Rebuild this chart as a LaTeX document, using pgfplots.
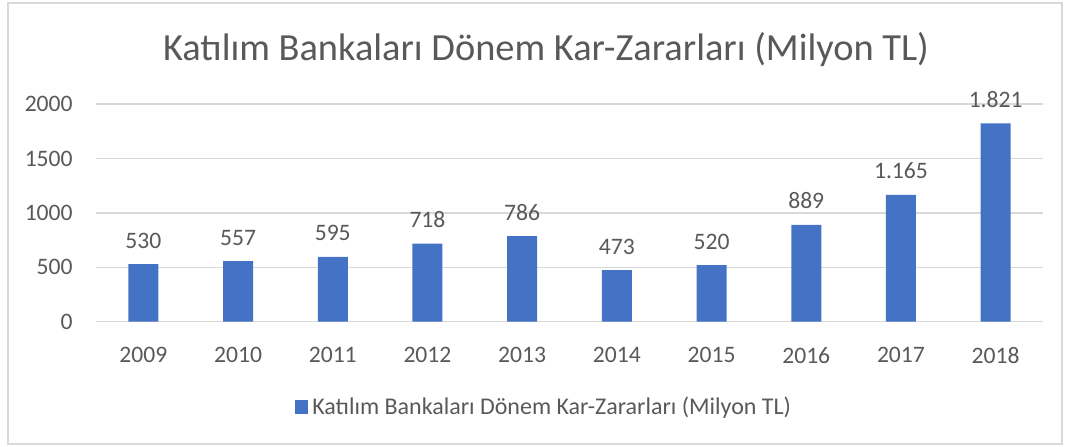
\documentclass[border=0pt]{standalone}
\usepackage{pgfplots}
\pgfplotsset{compat=1.18}
\usepackage{fontspec}
\setmainfont{Carlito}
\definecolor{barblue}{HTML}{4472C4}
\definecolor{txtgray}{HTML}{595959}
\definecolor{gridgray}{HTML}{D9D9D9}
\begin{document}
\begin{tikzpicture}
\useasboundingbox (0,0) rectangle (535pt,223pt);
\draw[gridgray, line width=0.75pt] (4pt,1pt) rectangle (531pt,221.5pt);
\node[anchor=base, text=txtgray, font=\fontsize{19.2}{22}\selectfont, inner sep=0pt] at (273pt,193pt) {Katılım Bankaları Dönem Kar-Zararları (Milyon TL)};
\begin{axis}[
  at={(48pt,62.15pt)}, anchor=south west,
  scale only axis,
  width=473.5pt, height=108.85pt,
  xmin=-0.5, xmax=9.5,
  ymin=0, ymax=2000,
  xtick={0,...,9},
  xticklabels={2009,2010,2011,2012,2013,2014,2015,2016,2017,2018},
  ytick={0,500,1000,1500,2000},
  yticklabels={0,500,1000,1500,2000},
  axis line style={draw=none},
  tick style={draw=none},
  ymajorgrids,
  grid style={gridgray, line width=0.7pt},
  ticklabel style={font=\fontsize{11.8}{13}\selectfont, text=txtgray},
  xticklabel style={anchor=north, inner sep=0pt, yshift=-12.5pt},
  yticklabel style={anchor=east, inner sep=0pt, xshift=-11.5pt},
  legend style={at={(0.474,-0.392)}, anchor=center, draw=none, fill=none,
    font=\fontsize{12}{14}\selectfont, text=txtgray},
  legend image code/.code={\fill[barblue] (0pt,-3.4pt) rectangle (6.8pt,3.4pt);},
  legend cell align=left,
  clip=false,
]
\addplot[ybar, bar width=15pt, fill=barblue, draw=none,
  nodes near coords={\pgfmathprintnumber[1000 sep={.}, assume math mode=true]{\pgfplotspointmeta}},
  every node near coord/.append style={anchor=base, inner sep=0pt, yshift=8pt,
    font=\fontsize{11.8}{13}\selectfont, text=txtgray},
] coordinates {
  (0,530) (1,557) (2,595) (3,718) (4,786) (5,473) (6,520) (7,889) (8,1165) (9,1821)
};
\addlegendentry{Katılım Bankaları Dönem Kar-Zararları (Milyon TL)}
\end{axis}
\end{tikzpicture}
\end{document}
